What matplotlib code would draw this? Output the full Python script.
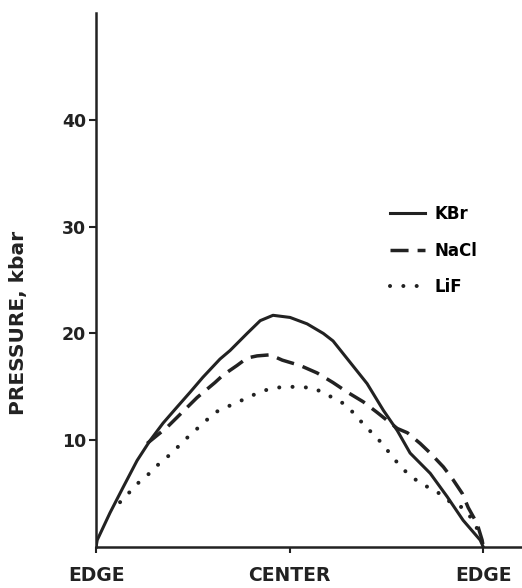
import matplotlib
matplotlib.use("Agg")
import matplotlib.pyplot as plt

# posiciones a lo largo de la muestra (0 = borde, 0.5 = centro, 1 = borde)
x_kbr = [0, 0.003, 0.036, 0.070, 0.106, 0.140, 0.173, 0.209, 0.243, 0.276, 0.320,
         0.346, 0.390, 0.424, 0.457, 0.501, 0.545, 0.587, 0.612, 0.656, 0.700,
         0.742, 0.778, 0.811, 0.863, 0.907, 0.948, 0.992, 1.0]
p_kbr = [0, 0.65, 3.2, 5.6, 8.1, 10.0, 11.6, 13.1, 14.5, 15.9, 17.6,
         18.4, 20.0, 21.2, 21.7, 21.5, 20.9, 20.0, 19.3, 17.3, 15.3,
         12.8, 10.9, 8.8, 6.9, 4.7, 2.5, 0.65, 0]

x_nacl = [0.132, 0.183, 0.261, 0.307, 0.328, 0.364, 0.390, 0.416, 0.450, 0.481,
          0.527, 0.571, 0.612, 0.649, 0.690, 0.726, 0.778, 0.804, 0.837, 0.863,
          0.897, 0.922, 0.946, 0.961, 0.984, 0.997, 1.0]
p_nacl = [9.7, 11.2, 14.0, 15.4, 16.1, 17.0, 17.7, 17.9, 18.0, 17.5,
          17.0, 16.3, 15.4, 14.5, 13.6, 12.6, 11.1, 10.7, 9.7, 8.8,
          7.5, 6.3, 5.0, 3.7, 2.2, 0.65, 0]

x_lif = [0.062, 0.083, 0.109, 0.132, 0.160, 0.186, 0.212, 0.240, 0.274, 0.307,
         0.349, 0.380, 0.416, 0.447, 0.483, 0.519, 0.561, 0.600, 0.636, 0.667,
         0.695, 0.724, 0.747, 0.778, 0.804, 0.840, 0.876, 0.915, 0.946, 0.959,
         0.979, 0.992]
p_lif = [4.2, 5.0, 6.0, 6.7, 7.7, 8.5, 9.4, 10.4, 11.5, 12.6,
         13.3, 13.8, 14.4, 14.8, 15.0, 15.0, 14.9, 14.2, 13.5, 12.5,
         11.3, 10.3, 9.3, 7.9, 6.9, 5.9, 5.3, 4.2, 3.7, 3.2,
         2.2, 0.9]

etiquetas_x = ["EDGE", "CENTER", "EDGE"]
ticks_y = [10, 20, 30, 40]

tinta = "#222222"
plt.rcParams["font.family"] = ["DejaVu Sans"]
plt.rcParams["font.weight"] = "bold"
plt.rcParams["axes.labelweight"] = "bold"

fig = plt.figure(figsize=(5.22, 5.88), dpi=100)
ax = fig.add_axes([0.184, 0.0697, 0.816, 0.908])

ax.plot(x_kbr, p_kbr, color=tinta, lw=2.2, label="KBr")
ax.plot(x_nacl, p_nacl, color=tinta, lw=2.5, dashes=(5.2, 2.6), label="NaCl")
ax.plot(x_lif, p_lif, color=tinta, lw=2.9, dashes=(0.01, 3.3),
        dash_capstyle="round", label="LiF")

ax.set_xlim(0, 1.1)
ax.set_ylim(0, 50)

for lado in ["top", "right"]:
    ax.spines[lado].set_visible(False)
for lado in ["left", "bottom"]:
    ax.spines[lado].set_linewidth(1.8)
    ax.spines[lado].set_color(tinta)

ax.set_yticks(ticks_y)
ax.set_yticklabels([str(t) for t in ticks_y], fontsize=12.5, color=tinta)
ax.set_xticks([0, 0.5, 1.0])
ax.set_xticklabels(etiquetas_x, fontsize=13.5, color=tinta)
ax.tick_params(axis="y", length=5, width=1.5, pad=2, colors=tinta)
ax.tick_params(axis="x", length=4, width=1.5, pad=10, colors=tinta)

ax.set_ylabel("PRESSURE, kbar", fontsize=14.5, color=tinta)
ax.yaxis.set_label_coords(-0.16, 0.42)

ax.legend(loc="upper left", bbox_to_anchor=(0.69, 0.64), frameon=False,
          fontsize=12, handlelength=2.1, handletextpad=0.6, labelspacing=1.1,
          borderaxespad=0, borderpad=0)

fig.savefig("out.png", dpi=100)
